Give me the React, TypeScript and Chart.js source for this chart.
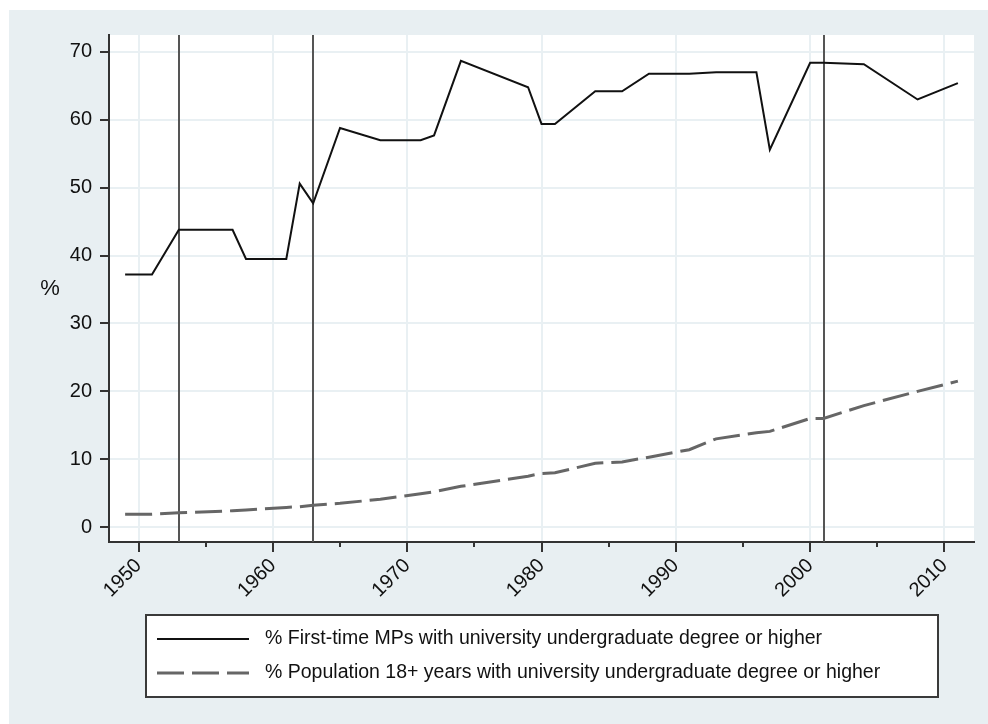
import React, { useEffect, useRef } from "react";
import { Chart, registerables } from "chart.js";

Chart.register(...registerables);

// ---------- data ----------
const mpYears = [1949, 1951, 1953, 1957, 1958, 1961, 1962, 1963, 1965, 1968, 1971, 1972, 1974, 1979, 1980, 1981, 1984, 1986, 1988, 1991, 1993, 1996, 1997, 2000, 2001, 2004, 2008, 2011];
const mpValues = [37.2, 37.2, 43.8, 43.8, 39.5, 39.5, 50.6, 47.7, 58.8, 57.0, 57.0, 57.7, 68.7, 64.8, 59.4, 59.4, 64.2, 64.2, 66.8, 66.8, 67.0, 67.0, 55.6, 68.4, 68.4, 68.2, 63.0, 65.4];

const popYears = [1949, 1951, 1953, 1957, 1958, 1961, 1962, 1963, 1965, 1968, 1971, 1972, 1974, 1979, 1980, 1981, 1984, 1986, 1988, 1991, 1993, 1996, 1997, 2000, 2001, 2004, 2008, 2011];
const popValues = [1.9, 1.9, 2.1, 2.4, 2.5, 2.9, 3.0, 3.2, 3.5, 4.1, 4.9, 5.2, 6.0, 7.5, 7.9, 8.0, 9.4, 9.6, 10.3, 11.4, 13.0, 13.9, 14.1, 16.0, 16.0, 17.9, 20.0, 21.5];

const xTickValues = [1950, 1960, 1970, 1980, 1990, 2000, 2010];
const xMinorTickValues = [1955, 1965, 1975, 1985, 1995, 2005];
const yTickValues = [0, 10, 20, 30, 40, 50, 60, 70];
const referenceYears = [1953, 1963, 2001];

const seriesLabels = [
  "% First-time MPs with university undergraduate degree or higher",
  "% Population 18+ years with university undergraduate degree or higher",
];
const yAxisTitle = "%";

// ---------- styles ----------
const FONT = "'Liberation Sans', Arial, Helvetica, sans-serif";
const OUTER_BG = "#e8eff2";
const GRID = "#e9f0f3";
const AXIS = "#333333";
const TEXT = "#111111";

const decorPlugin = {
  id: "decor",
  beforeDraw(chart: any) {
    const { ctx, chartArea, width, height } = chart;
    ctx.save();
    ctx.fillStyle = "#ffffff";
    ctx.fillRect(0, 0, width, height);
    ctx.fillStyle = OUTER_BG;
    ctx.fillRect(9, 10, width - 9, height - 10);
    ctx.fillStyle = "#ffffff";
    ctx.fillRect(chartArea.left, chartArea.top, chartArea.right - chartArea.left, chartArea.bottom - chartArea.top);
    ctx.restore();
  },
  beforeDatasetsDraw(chart: any) {
    const { ctx, chartArea, scales } = chart;
    ctx.save();
    ctx.strokeStyle = "#555555";
    ctx.lineWidth = 2;
    referenceYears.forEach((yr) => {
      const px = Math.round(scales.x.getPixelForValue(yr));
      ctx.beginPath();
      ctx.moveTo(px, chartArea.top);
      ctx.lineTo(px, chartArea.bottom);
      ctx.stroke();
    });
    ctx.restore();
  },
  afterDraw(chart: any) {
    const { ctx, chartArea, scales } = chart;
    ctx.save();
    // minor x ticks
    ctx.strokeStyle = AXIS;
    ctx.lineWidth = 2;
    xMinorTickValues.forEach((yr) => {
      const px = Math.round(scales.x.getPixelForValue(yr));
      ctx.beginPath();
      ctx.moveTo(px, chartArea.bottom);
      ctx.lineTo(px, chartArea.bottom + 5);
      ctx.stroke();
    });
    // y axis title
    ctx.fillStyle = TEXT;
    ctx.font = `22px ${FONT}`;
    ctx.textAlign = "center";
    ctx.textBaseline = "middle";
    ctx.fillText(yAxisTitle, 50, (chartArea.top + chartArea.bottom) / 2);

    // legend
    const bx = 146, by = 615, bw = 792, bh = 82;
    ctx.fillStyle = "#ffffff";
    ctx.fillRect(bx, by, bw, bh);
    ctx.strokeStyle = "#3a3a3a";
    ctx.lineWidth = 2;
    ctx.strokeRect(bx, by, bw, bh);
    const rows = [639, 673];
    chart.data.datasets.forEach((ds: any, i: number) => {
      ctx.save();
      ctx.strokeStyle = ds.borderColor;
      ctx.lineWidth = ds.borderWidth;
      ctx.setLineDash(ds.borderDash || []);
      ctx.beginPath();
      ctx.moveTo(157, rows[i]);
      ctx.lineTo(249, rows[i]);
      ctx.stroke();
      ctx.restore();
      ctx.fillStyle = TEXT;
      ctx.font = `19.5px ${FONT}`;
      ctx.textAlign = "left";
      ctx.textBaseline = "middle";
      ctx.fillText(ds.label, 265, rows[i]);
    });
    ctx.restore();
  },
};

export default function App() {
  const ref = useRef<HTMLCanvasElement | null>(null);

  useEffect(() => {
    if (!ref.current) return;
    const chart = new Chart(ref.current, {
      type: "line",
      data: {
        datasets: [
          {
            label: seriesLabels[0],
            data: mpYears.map((x, i) => ({ x, y: mpValues[i] })),
            borderColor: "#111111",
            borderWidth: 2,
            pointRadius: 0,
            tension: 0,
            fill: false,
          },
          {
            label: seriesLabels[1],
            data: popYears.map((x, i) => ({ x, y: popValues[i] })),
            borderColor: "#666666",
            borderWidth: 3,
            borderDash: [27, 8],
            pointRadius: 0,
            tension: 0,
            fill: false,
          },
        ],
      },
      options: {
        animation: false,
        responsive: false,
        devicePixelRatio: 1,
        layout: { padding: { left: 0, top: 35, right: 14, bottom: 122 }, autoPadding: false },
        plugins: { legend: { display: false }, tooltip: { enabled: false } },
        scales: {
          x: {
            type: "linear",
            min: 1947.8,
            max: 2012.2,
            afterBuildTicks: (s: any) => {
              s.ticks = xTickValues.map((v) => ({ value: v }));
            },
            afterFit: (s: any) => {
              s.height = 60;
            },
            ticks: {
              autoSkip: false,
              minRotation: 45,
              maxRotation: 45,
              padding: 2,
              color: TEXT,
              font: { family: FONT, size: 20 },
              callback: (v: any) => String(v),
            },
            grid: { color: GRID, lineWidth: 2, tickColor: AXIS, tickLength: 10, tickWidth: 2 },
            border: { color: AXIS, width: 2 },
          },
          y: {
            min: -2.2,
            max: 72.5,
            afterBuildTicks: (s: any) => {
              s.ticks = yTickValues.map((v) => ({ value: v }));
            },
            afterFit: (s: any) => {
              s.width = 109;
            },
            ticks: {
              padding: 8,
              color: TEXT,
              font: { family: FONT, size: 20 },
              callback: (v: any) => String(v),
            },
            grid: { color: GRID, lineWidth: 2, tickColor: AXIS, tickLength: 9, tickWidth: 2 },
            border: { color: AXIS, width: 2 },
          },
        },
      },
      plugins: [decorPlugin],
    } as any);
    return () => chart.destroy();
  }, []);

  return (
    <div style={{ position: "absolute", left: 0, top: 0, width: 988, height: 724 }}>
      <canvas ref={ref} width={988} height={724} style={{ display: "block", width: 988, height: 724 }} />
    </div>
  );
}
